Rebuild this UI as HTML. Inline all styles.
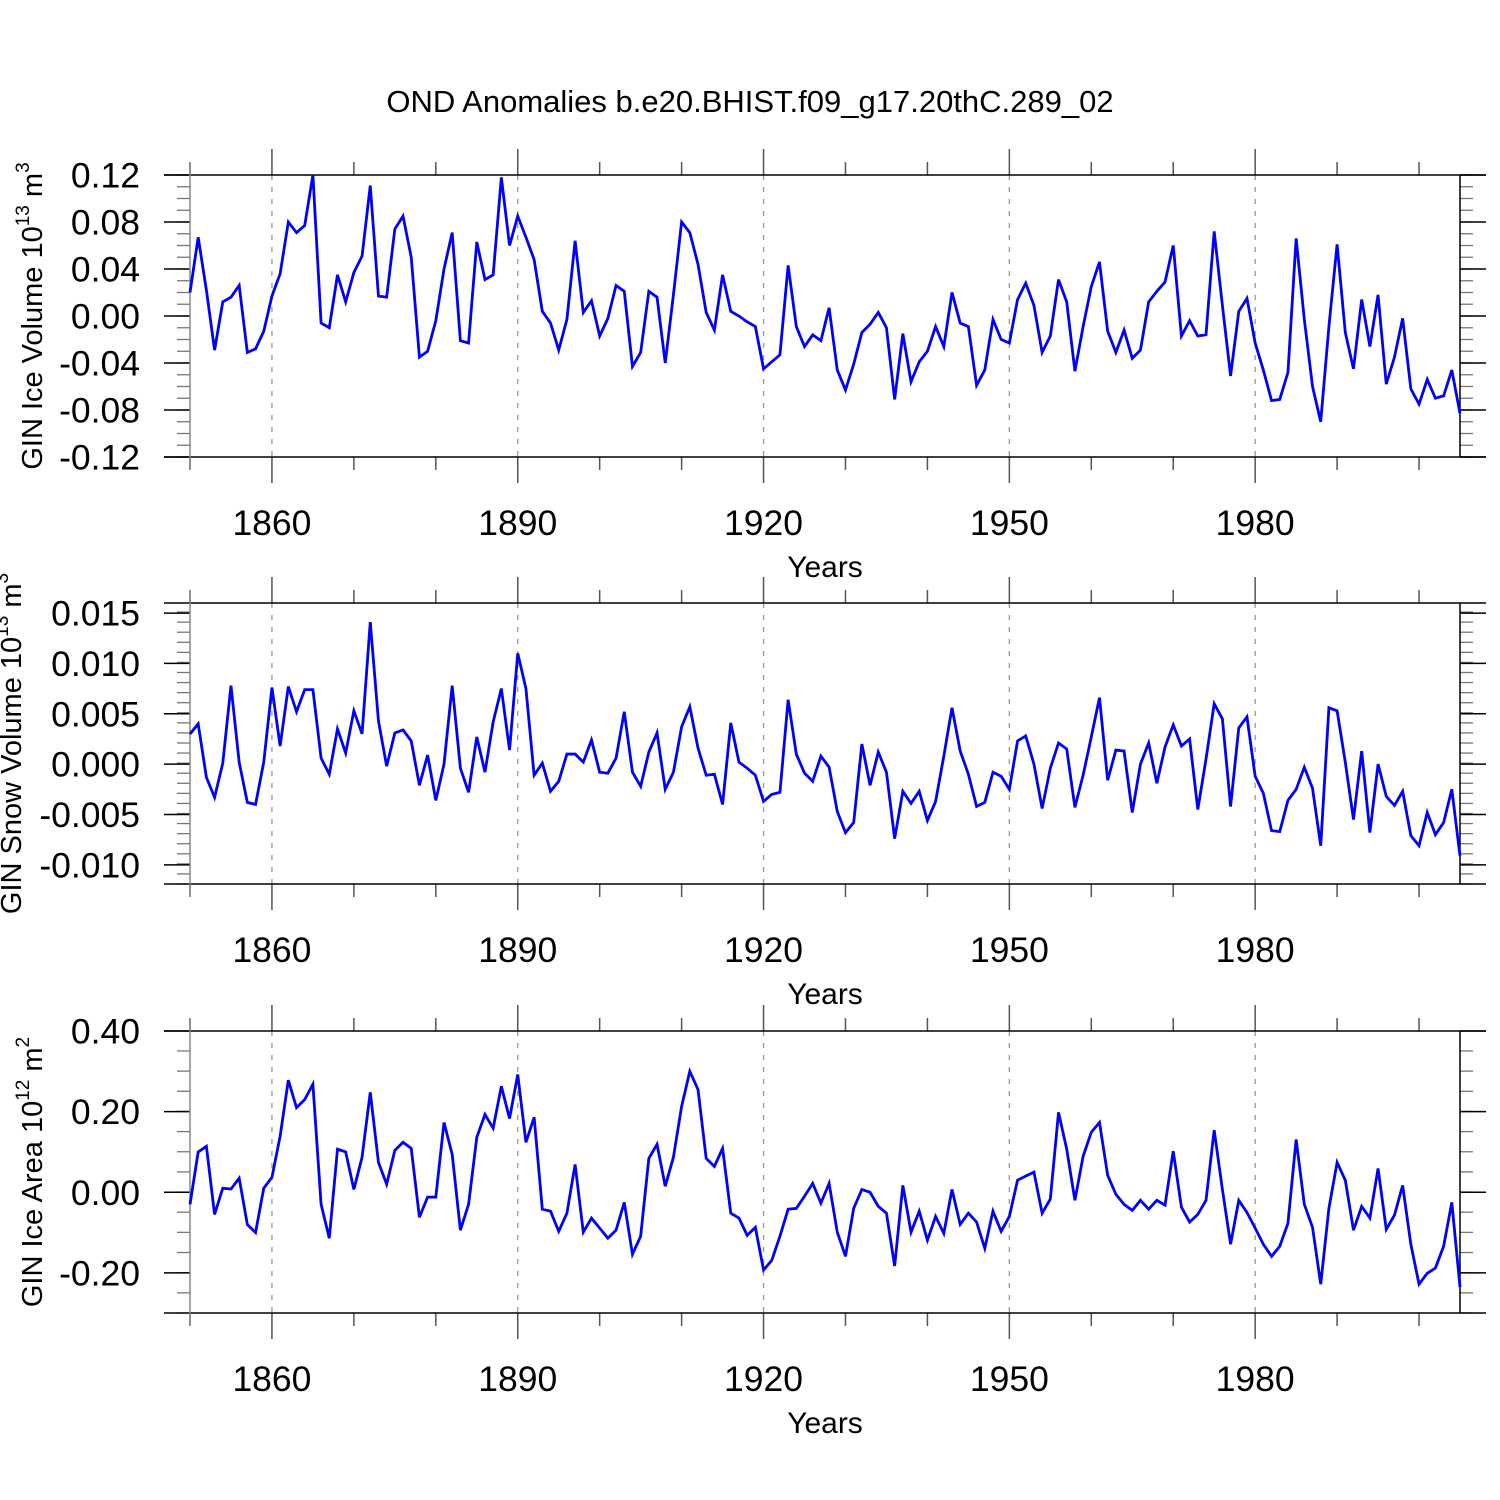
<!DOCTYPE html>
<html><head><meta charset="utf-8"><style>
html,body{margin:0;padding:0;background:#fff;}
svg{display:block;font-family:"Liberation Sans",sans-serif;}
</style></head><body>
<svg id="chart" width="1500" height="1500" viewBox="0 0 1500 1500" xmlns="http://www.w3.org/2000/svg">
<rect width="1500" height="1500" fill="#fff"/>
<text x="750" y="112" font-size="31" text-anchor="middle">OND Anomalies b.e20.BHIST.f09_g17.20thC.289_02</text>
</svg>
<script>
const startYear = 1850;
const endYear = 2005;
const xTickYears = [1860, 1890, 1920, 1950, 1980];
const iceVolume = [0.020,0.067,0.022,-0.029,0.012,0.016,0.026,-0.031,-0.028,-0.013,0.017,0.036,0.080,0.071,0.077,0.120,-0.006,-0.010,0.035,0.012,0.037,0.051,0.111,0.017,0.016,0.074,0.085,0.050,-0.035,-0.030,-0.004,0.040,0.071,-0.021,-0.023,0.063,0.031,0.035,0.118,0.060,0.085,0.067,0.048,0.004,-0.006,-0.029,-0.003,0.064,0.003,0.013,-0.017,-0.002,0.026,0.021,-0.043,-0.031,0.021,0.016,-0.040,0.018,0.080,0.071,0.044,0.003,-0.012,0.035,0.004,0.000,-0.005,-0.009,-0.045,-0.039,-0.033,0.043,-0.009,-0.026,-0.016,-0.021,0.007,-0.046,-0.063,-0.041,-0.014,-0.007,0.003,-0.010,-0.071,-0.015,-0.056,-0.039,-0.030,-0.009,-0.026,0.020,-0.006,-0.009,-0.059,-0.046,-0.003,-0.020,-0.023,0.014,0.028,0.009,-0.031,-0.017,0.031,0.012,-0.047,-0.009,0.025,0.046,-0.013,-0.031,-0.012,-0.036,-0.029,0.012,0.021,0.029,0.060,-0.017,-0.004,-0.017,-0.016,0.072,0.009,-0.051,0.004,0.015,-0.023,-0.046,-0.072,-0.071,-0.048,0.066,-0.003,-0.060,-0.090,-0.009,0.061,-0.014,-0.045,0.014,-0.026,0.018,-0.058,-0.035,-0.002,-0.062,-0.075,-0.054,-0.070,-0.068,-0.046,-0.083];
const snowVolume = [0.0030,0.0040,-0.0013,-0.0033,0.0001,0.0078,0.0002,-0.0038,-0.0040,0.0002,0.0076,0.0018,0.0077,0.0052,0.0074,0.0074,0.0006,-0.0010,0.0035,0.0011,0.0053,0.0030,0.0141,0.0043,-0.0002,0.0031,0.0034,0.0023,-0.0021,0.0009,-0.0036,0.0000,0.0078,-0.0004,-0.0028,0.0027,-0.0008,0.0042,0.0075,0.0014,0.0110,0.0075,-0.0011,0.0001,-0.0027,-0.0017,0.0010,0.0010,0.0002,0.0024,-0.0008,-0.0009,0.0006,0.0052,-0.0008,-0.0022,0.0012,0.0031,-0.0025,-0.0008,0.0037,0.0057,0.0016,-0.0011,-0.0010,-0.0040,0.0041,0.0002,-0.0004,-0.0011,-0.0037,-0.0030,-0.0028,0.0064,0.0010,-0.0009,-0.0017,0.0008,-0.0003,-0.0047,-0.0068,-0.0058,0.0020,-0.0021,0.0012,-0.0008,-0.0074,-0.0027,-0.0039,-0.0027,-0.0056,-0.0037,0.0008,0.0056,0.0013,-0.0010,-0.0042,-0.0038,-0.0008,-0.0012,-0.0025,0.0023,0.0028,0.0000,-0.0044,-0.0004,0.0021,0.0015,-0.0043,-0.0011,0.0027,0.0066,-0.0016,0.0014,0.0013,-0.0048,0.0000,0.0021,-0.0019,0.0017,0.0039,0.0018,0.0025,-0.0045,0.0005,0.0060,0.0045,-0.0042,0.0036,0.0047,-0.0012,-0.0029,-0.0066,-0.0067,-0.0036,-0.0025,-0.0003,-0.0024,-0.0081,0.0056,0.0053,0.0002,-0.0055,0.0013,-0.0068,0.0000,-0.0032,-0.0041,-0.0027,-0.0071,-0.0081,-0.0048,-0.0070,-0.0058,-0.0025,-0.0091];
const iceArea = [-0.03,0.10,0.114,-0.055,0.01,0.008,0.035,-0.08,-0.10,0.01,0.037,0.139,0.278,0.21,0.23,0.268,-0.03,-0.114,0.107,0.10,0.007,0.087,0.248,0.074,0.02,0.104,0.124,0.109,-0.062,-0.012,-0.012,0.173,0.094,-0.094,-0.03,0.136,0.193,0.159,0.263,0.183,0.292,0.124,0.186,-0.042,-0.047,-0.097,-0.052,0.069,-0.099,-0.064,-0.089,-0.114,-0.094,-0.025,-0.154,-0.109,0.084,0.119,0.015,0.087,0.213,0.30,0.255,0.084,0.064,0.109,-0.052,-0.064,-0.107,-0.087,-0.193,-0.169,-0.109,-0.042,-0.04,-0.01,0.022,-0.027,0.022,-0.099,-0.159,-0.04,0.007,0.0,-0.035,-0.052,-0.183,0.017,-0.099,-0.047,-0.119,-0.06,-0.102,0.007,-0.08,-0.052,-0.074,-0.139,-0.047,-0.097,-0.06,0.03,0.04,0.05,-0.052,-0.017,0.198,0.107,-0.02,0.089,0.149,0.173,0.042,-0.005,-0.03,-0.045,-0.02,-0.042,-0.02,-0.032,0.102,-0.037,-0.074,-0.055,-0.02,0.154,0.007,-0.129,-0.02,-0.05,-0.089,-0.129,-0.159,-0.134,-0.077,0.131,-0.03,-0.087,-0.228,-0.04,0.074,0.03,-0.094,-0.035,-0.064,0.059,-0.092,-0.057,0.017,-0.129,-0.228,-0.201,-0.188,-0.134,-0.025,-0.235];
const iceVolTicks = [0.12,0.08,0.04,0.00,-0.04,-0.08,-0.12];
const iceVolLabels = ["0.12","0.08","0.04","0.00","-0.04","-0.08","-0.12"];
const snowTicks = [0.015,0.010,0.005,0.000,-0.005,-0.010];
const snowLabels = ["0.015","0.010","0.005","0.000","-0.005","-0.010"];
const areaTicks = [0.40,0.20,0.00,-0.20];
const areaLabels = ["0.40","0.20","0.00","-0.20"];

const NS = "http://www.w3.org/2000/svg";
const svg = document.getElementById('chart');
const X0 = 190, X1 = 1460;
function xs(yr){ return X0 + (yr - startYear) * (X1 - X0) / (endYear - startYear); }
function mk(tag, attrs, parent){ const e = document.createElementNS(NS, tag); for (const k in attrs) e.setAttribute(k, attrs[k]); (parent||svg).appendChild(e); return e; }

function panel(cfg){
  const g = mk('g', {});
  
  
  const ys = v => cfg.top + (cfg.ymax - v) * (cfg.bot - cfg.top) / (cfg.ymax - cfg.ymin);
  xTickYears.forEach(yr => {
    const l = mk('line', {x1: xs(yr), x2: xs(yr), y1: cfg.top, y2: cfg.bot, stroke: '#999', 'stroke-width': 1.3, 'stroke-dasharray': '5,7'}, g);
    
    
  });
  for (let yr = startYear; yr <= endYear; yr += 10) {
    const major = xTickYears.includes(yr);
    const len = major ? 26 : 13;
    mk('line', {x1: xs(yr), x2: xs(yr), y1: cfg.top, y2: cfg.top - len, stroke: '#555', 'stroke-width': 1.5}, g);
    mk('line', {x1: xs(yr), x2: xs(yr), y1: cfg.bot, y2: cfg.bot + len, stroke: '#555', 'stroke-width': 1.5}, g);
  }
  xTickYears.forEach(yr => {
    const t = mk('text', {x: xs(yr), y: cfg.bot + 78, 'font-size': 35.5, 'text-anchor': 'middle'}, g);
    t.textContent = yr;
    
    
  });
  for (let v = cfg.ymin; v <= cfg.ymax + 1e-9; v += cfg.minor) {
    const y = ys(v);
    if (y < cfg.top - 0.5 || y > cfg.bot + 0.5) continue;
    mk('line', {x1: X0, x2: X0 - 13, y1: y, y2: y, stroke: '#777', 'stroke-width': 1.3}, g);
    mk('line', {x1: X1, x2: X1 + 13, y1: y, y2: y, stroke: '#777', 'stroke-width': 1.3}, g);
  }
  cfg.ticks.forEach((v, i) => {
    const y = ys(v);
    mk('line', {x1: X0, x2: X0 - 26, y1: y, y2: y, stroke: '#000', 'stroke-width': 1.5}, g);
    mk('line', {x1: X1, x2: X1 + 26, y1: y, y2: y, stroke: '#000', 'stroke-width': 1.5}, g);
    const t = mk('text', {x: 140, y: y + 12.5, 'font-size': 35.5, 'text-anchor': 'end'}, g);
    t.textContent = cfg.labels[i];
    
    
  });
  mk('line', {x1: X0 - 26, x2: X1 + 26, y1: cfg.top, y2: cfg.top, stroke: '#000', 'stroke-width': 1.5}, g);
  mk('line', {x1: X0 - 26, x2: X1 + 26, y1: cfg.bot, y2: cfg.bot, stroke: '#000', 'stroke-width': 1.5}, g);
  mk('line', {x1: X0, x2: X0, y1: cfg.top - 13, y2: cfg.bot + 13, stroke: '#888', 'stroke-width': 1.5}, g);
  mk('line', {x1: X1, x2: X1, y1: cfg.top, y2: cfg.bot, stroke: '#000', 'stroke-width': 1.5}, g);
  const pts = cfg.data.map((v, i) => xs(startYear + i).toFixed(2) + ',' + ys(v).toFixed(2)).join(' ');
  const pl = mk('polyline', {points: pts, fill: 'none', stroke: '#0000ff', 'stroke-width': 2.8, 'stroke-linejoin': 'miter'}, g);
  
  
  const xt = mk('text', {x: 825, y: cfg.bot + 120, 'font-size': 30, 'text-anchor': 'middle'}, g);
  xt.textContent = 'Years';
  
  
  const cy = (cfg.top + cfg.bot) / 2;
  const yt = mk('text', {x: 0, y: 0, 'font-size': 29, 'text-anchor': 'middle', transform: 'translate(' + cfg.tx + ',' + cy + ') rotate(-90)'}, g);
  
  
  yt.appendChild(document.createTextNode(cfg.title + ' 10'));
  const s1 = mk('tspan', {dy: -13, 'font-size': 19}, yt); s1.textContent = cfg.exp;
  const s2 = mk('tspan', {dy: 13}, yt); s2.textContent = ' ' + cfg.unit;
  const s3 = mk('tspan', {dy: -13, 'font-size': 19}, yt); s3.textContent = cfg.uexp;
}
panel({name: 'ice-volume-panel', top: 175, bot: 457, ymin: -0.12, ymax: 0.12, minor: 0.01, ticks: iceVolTicks, labels: iceVolLabels, data: iceVolume, title: 'GIN Ice Volume', exp: '13', unit: 'm', uexp: '3', tx: 42});
panel({name: 'snow-volume-panel', top: 603, bot: 884, ymin: -0.0119, ymax: 0.016, minor: 0.001, ticks: snowTicks, labels: snowLabels, data: snowVolume, title: 'GIN Snow Volume', exp: '13', unit: 'm', uexp: '3', tx: 21});
panel({name: 'ice-area-panel', top: 1031, bot: 1313, ymin: -0.2995, ymax: 0.40, minor: 0.05, ticks: areaTicks, labels: areaLabels, data: iceArea, title: 'GIN Ice Area', exp: '12', unit: 'm', uexp: '2', tx: 42});
</script>
</body></html>
